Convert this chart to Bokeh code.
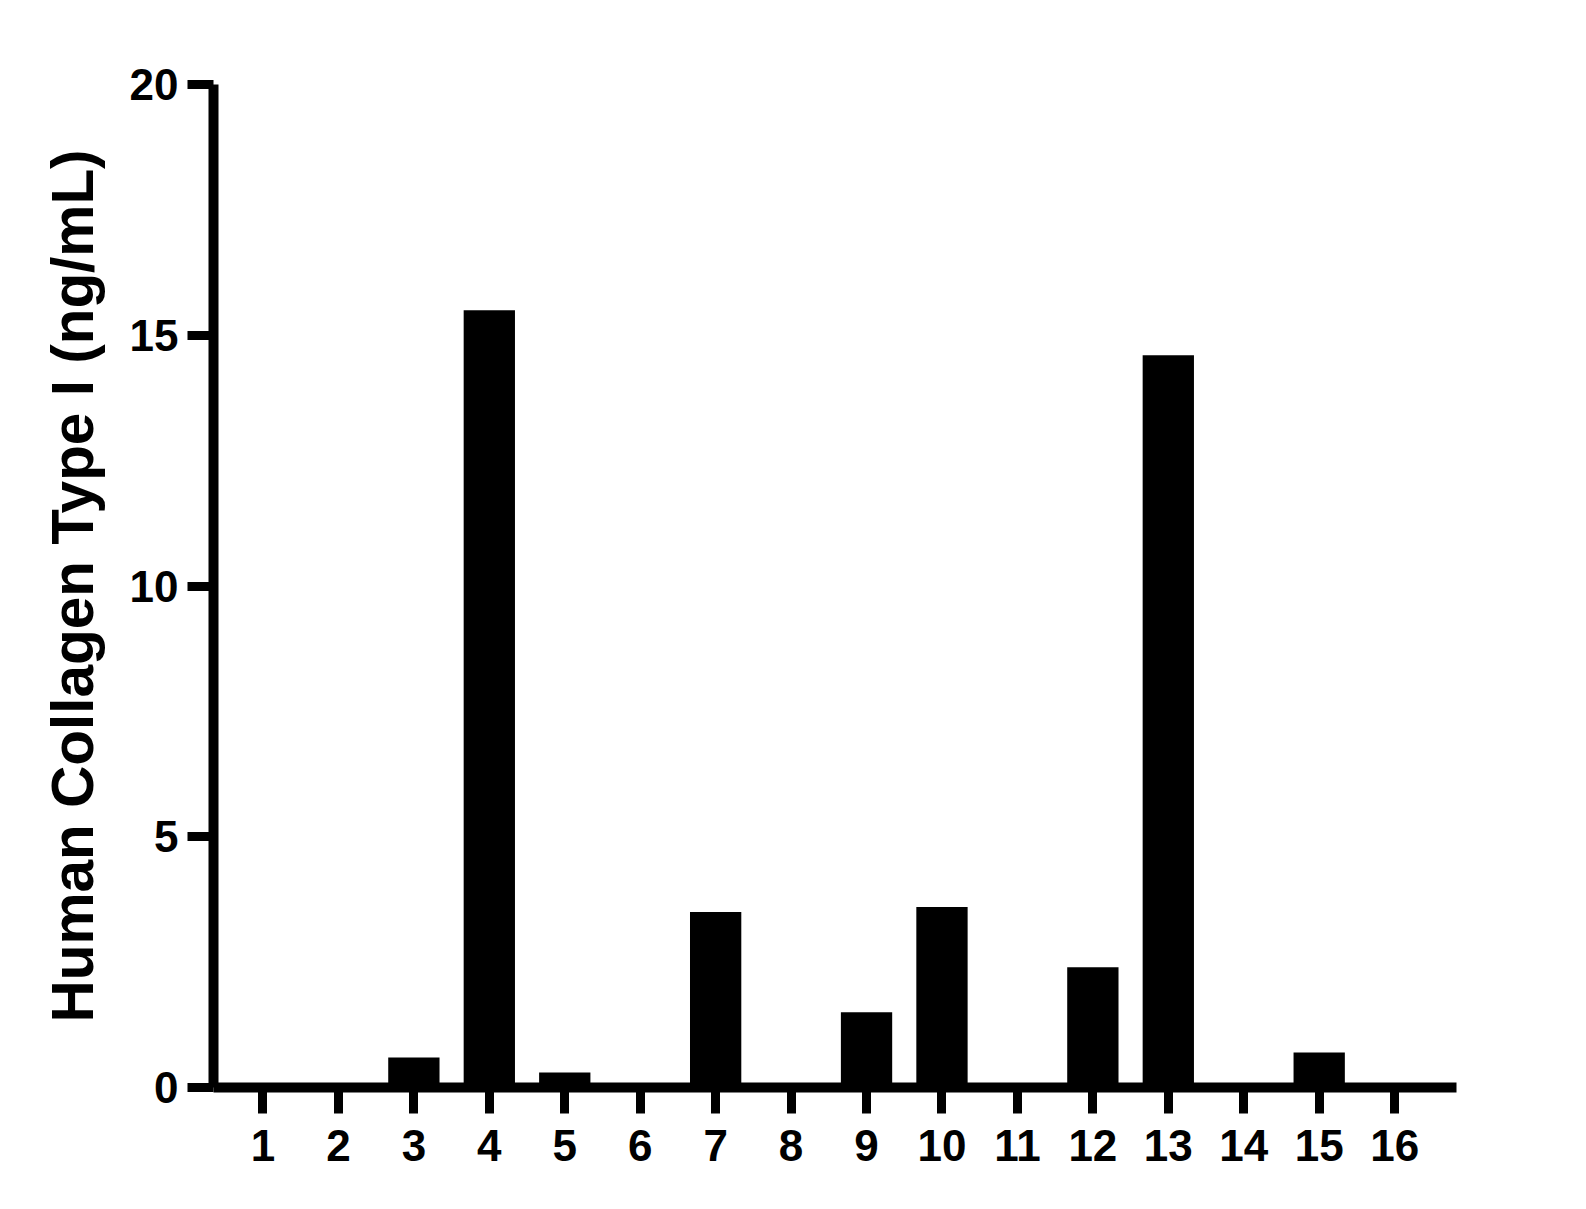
from bokeh.plotting import figure
from bokeh.models import Range1d, FixedTicker, ColumnDataSource
from bokeh.embed import file_html
from bokeh.resources import INLINE

# Data
categories = list(range(1, 17))
values = [0, 0, 0.6, 15.5, 0.3, 0, 3.5, 0, 1.5, 3.6, 0, 2.4, 14.6, 0, 0.7, 0]
y_ticks = [0, 5, 10, 15, 20]
y_label = "Human Collagen Type I (ng/mL)"

src = ColumnDataSource(dict(x=categories, top=values))

p = figure(
    width=1560, height=1189,
    x_range=Range1d(0.344, 16.82), y_range=Range1d(0, 20),
    output_backend="svg", toolbar_location=None,
    min_border_left=213, min_border_top=84, min_border_right=104, min_border_bottom=102,
)
p.vbar(x="x", top="top", bottom=0, width=0.68, source=src,
       fill_color="black", line_color=None)

p.outline_line_color = None
p.xgrid.visible = False
p.ygrid.visible = False
p.background_fill_color = "white"
p.border_fill_color = "white"

font = "Liberation Sans"
for ax in (p.xaxis[0], p.yaxis[0]):
    ax.axis_line_width = 10
    ax.axis_line_color = "black"
    ax.major_tick_line_width = 9
    ax.major_tick_line_color = "black"
    ax.major_tick_out = 26
    ax.major_tick_in = 0
    ax.minor_tick_out = 0
    ax.minor_tick_in = 0
    ax.major_label_text_font = font
    ax.major_label_text_font_style = "bold"
    ax.major_label_text_font_size = "44px"
    ax.major_label_text_color = "black"

p.xaxis.ticker = FixedTicker(ticks=categories)
p.xaxis.major_label_standoff = 16
p.yaxis.ticker = FixedTicker(ticks=y_ticks)
p.yaxis.major_label_standoff = 9

p.yaxis.axis_label = y_label
p.yaxis.axis_label_text_font = font
p.yaxis.axis_label_text_font_style = "bold"
p.yaxis.axis_label_text_font_size = "58.5px"
p.yaxis.axis_label_text_color = "black"
p.yaxis.axis_label_standoff = 22

open("out.html", "w").write(file_html(p, INLINE))
